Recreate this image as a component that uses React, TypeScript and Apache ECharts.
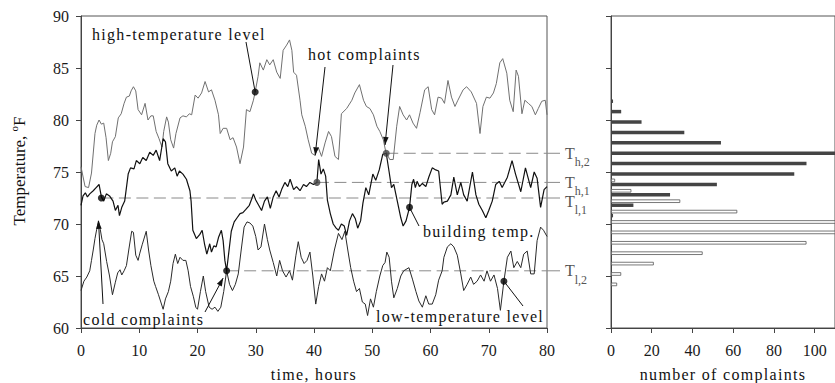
import React, { useEffect, useRef } from 'react';
import * as echarts from 'echarts';

// ---- time series: [time (hours), temperature (°F)] ----
const highTempLevel: number[][] = [
  [0, 75.5], [0.7, 73.6], [1.3, 73.5], [1.8, 74.9], [2.4, 78.7], [2.7, 79.5], [3.1, 80.0], [3.5, 79.6], [3.9, 79.7],
  [4.3, 78.3], [4.7, 76.1], [5.1, 76.8], [5.4, 77.9], [5.9, 78.4], [6.4, 80.2], [6.9, 80.6], [7.4, 81.6], [7.8, 82.2],
  [8.3, 82.3], [8.6, 82.8], [9.0, 83.2], [9.4, 82.8], [9.8, 81.0], [10.4, 80.5], [11.0, 81.6], [11.5, 80.0], [12.0, 80.4],
  [12.4, 80.4], [12.9, 78.9], [13.4, 78.2], [13.9, 77.4], [14.2, 78.9], [14.7, 80.3], [15.0, 79.8], [15.4, 78.1],
  [15.9, 77.3], [16.3, 78.7], [17.0, 80.2], [17.5, 80.4], [18.1, 80.3], [18.6, 80.6], [19.0, 80.5], [19.6, 82.4],
  [20.1, 82.1], [20.7, 82.6], [21.3, 83.7], [21.9, 82.7], [22.4, 82.9], [23.0, 81.9], [23.6, 80.5], [23.9, 78.7],
  [24.4, 79.2], [25.0, 79.2], [25.6, 78.1], [26.1, 78.3], [26.7, 77.4], [27.3, 75.8], [27.9, 77.4], [28.4, 81.0],
  [29.0, 80.8], [29.6, 81.9], [29.9, 82.7], [30.4, 84.2], [30.7, 85.5], [31.3, 84.8], [31.9, 85.8], [32.4, 85.3],
  [33.0, 85.8], [33.6, 84.6], [34.2, 84.0], [34.7, 86.7], [35.3, 87.2], [35.8, 87.7], [36.2, 86.7], [36.5, 84.6],
  [37.0, 84.3], [37.6, 81.9], [37.9, 80.5], [38.5, 79.4], [39.0, 78.1], [39.6, 76.8], [40.2, 76.6], [40.7, 77.4],
  [41.3, 76.5], [41.9, 77.8], [42.5, 78.9], [43.0, 78.4], [43.6, 76.5], [44.2, 76.2], [44.7, 80.6], [45.6, 81.1],
  [46.5, 81.9], [47.0, 82.6], [47.8, 83.4], [48.5, 81.9], [49.0, 81.3], [49.6, 81.1], [50.2, 80.5], [50.8, 79.4],
  [51.3, 78.9], [51.9, 78.1], [52.3, 77.0], [53.0, 76.2], [53.6, 76.2], [54.2, 79.4], [54.7, 81.3], [55.3, 80.5],
  [55.9, 80.0], [56.4, 80.5], [57.0, 79.7], [57.6, 79.2], [58.2, 80.7], [59.0, 82.9], [59.6, 83.2], [60.2, 81.0],
  [60.7, 80.5], [61.3, 82.2], [61.9, 82.1], [62.4, 81.6], [63.0, 83.8], [63.6, 82.2], [64.2, 81.3], [64.7, 81.9],
  [65.6, 82.9], [66.2, 83.2], [67.0, 82.7], [67.9, 81.6], [68.5, 78.7], [69.0, 81.3], [69.6, 82.2], [70.2, 82.1],
  [70.8, 82.6], [71.3, 83.5], [71.9, 85.5], [72.4, 85.9], [73.1, 84.5], [73.6, 81.9], [74.2, 80.8], [74.7, 84.8],
  [75.1, 84.2], [75.7, 80.6], [76.2, 81.9], [76.8, 81.6], [77.4, 81.3], [78.0, 80.5], [78.5, 81.1], [79.1, 81.8],
  [79.7, 81.9], [80.0, 80.5],
];

const buildingTemp: number[][] = [
  [0, 71.8], [0.35, 72.7], [0.75, 73.0], [1.1, 72.6], [1.5, 72.9], [2.1, 73.2], [2.6, 73.5], [3.1, 73.8], [3.5, 72.6],
  [3.9, 72.2], [4.35, 72.9], [4.9, 72.7], [5.5, 72.2], [5.9, 71.3], [6.35, 71.8], [6.6, 70.8], [7.0, 71.6], [7.5, 72.2],
  [8.1, 74.8], [8.5, 75.4], [9.1, 75.3], [9.5, 76.1], [10.1, 75.8], [10.6, 76.4], [11.2, 76.1], [11.8, 76.9],
  [12.4, 76.6], [12.9, 77.1], [13.5, 76.1], [14.1, 78.2], [14.5, 77.9], [14.9, 75.8], [15.5, 75.1], [16.1, 75.4],
  [16.5, 74.6], [16.9, 75.1], [17.5, 74.8], [18.1, 74.3], [18.7, 73.2], [18.9, 72.2], [19.2, 69.4], [19.8, 68.6],
  [20.4, 69.0], [20.8, 69.4], [21.2, 68.1], [21.6, 67.1], [22.1, 68.1], [22.4, 67.3], [22.8, 67.9], [23.2, 67.8],
  [23.6, 68.7], [24.1, 69.4], [24.4, 68.4], [24.7, 66.5], [25.0, 65.5], [25.4, 67.4], [25.8, 69.3], [26.3, 70.2],
  [26.8, 70.6], [27.3, 71.0], [27.8, 71.1], [28.3, 71.4], [28.9, 71.8], [29.3, 72.4], [29.6, 72.9], [30.0, 72.3],
  [30.5, 71.8], [31.0, 71.3], [31.5, 72.2], [32.0, 72.6], [32.5, 71.5], [33.0, 72.6], [33.5, 73.2], [34.0, 72.6],
  [34.5, 73.4], [35.0, 74.0], [35.5, 73.6], [35.9, 74.3], [36.5, 73.3], [37.0, 73.6], [37.6, 73.2], [38.2, 73.8],
  [38.7, 73.6], [39.3, 74.0], [39.9, 73.8], [40.5, 74.0], [40.8, 76.2], [41.2, 74.8], [41.6, 75.3], [42.0, 74.6],
  [42.3, 72.3], [42.8, 71.0], [43.3, 70.0], [43.8, 69.6], [44.2, 69.4], [44.7, 70.0], [45.2, 69.8], [45.6, 68.9],
  [46.1, 70.3], [46.6, 71.0], [47.1, 70.5], [47.5, 69.6], [48.0, 70.3], [48.4, 72.0], [48.9, 73.5], [49.4, 72.8],
  [50.1, 74.8], [50.6, 74.2], [51.2, 75.2], [51.8, 76.7], [52.4, 76.8], [52.9, 75.0], [53.3, 73.5], [53.7, 73.8],
  [54.3, 72.2], [54.9, 70.6], [55.3, 69.8], [55.8, 70.3], [56.4, 71.6], [56.8, 73.8], [57.1, 74.3], [57.4, 73.5],
  [57.7, 74.1], [58.1, 73.6], [58.6, 73.9], [59.2, 73.6], [59.7, 74.5], [60.3, 75.4], [60.9, 75.2], [61.4, 75.1],
  [62.0, 71.9], [62.3, 72.1], [62.9, 72.2], [63.5, 72.8], [64.0, 74.5], [64.6, 72.8], [65.2, 74.0], [65.7, 72.8],
  [66.3, 72.2], [67.2, 75.0], [67.8, 72.8], [68.3, 71.9], [68.9, 71.3], [69.5, 70.6], [70.0, 71.3], [70.6, 72.2],
  [71.2, 73.8], [71.8, 74.1], [72.3, 73.5], [73.2, 74.5], [74.0, 76.1], [74.6, 74.8], [75.5, 73.1], [76.3, 75.4],
  [77.2, 73.5], [77.8, 75.0], [78.3, 74.4], [78.9, 71.6], [79.5, 73.3], [80.0, 73.6],
];

const lowTempLevel: number[][] = [
  [0, 63.6], [0.5, 64.5], [1.0, 64.9], [1.5, 65.5], [1.8, 66.5], [2.1, 67.5], [2.4, 68.6], [2.7, 69.5], [3.0, 70.3],
  [3.3, 69.5], [3.6, 68.5], [3.9, 68.1], [4.4, 66.4], [4.9, 65.0], [5.4, 63.2], [5.9, 64.4], [6.3, 65.3], [6.7, 65.6],
  [7.0, 65.1], [7.4, 65.5], [7.8, 66.0], [8.2, 67.5], [8.7, 69.3], [9.0, 69.2], [9.4, 67.0], [9.8, 66.5], [10.1, 67.2],
  [10.5, 68.0], [11.2, 69.3], [11.6, 67.5], [12.0, 66.0], [12.5, 64.5], [12.8, 64.0], [13.3, 63.2], [13.7, 62.5],
  [14.1, 61.8], [14.5, 62.8], [15.0, 63.5], [15.4, 64.5], [15.8, 66.2], [16.2, 67.1], [16.6, 66.2], [17.0, 66.8],
  [17.5, 66.5], [18.0, 66.5], [18.4, 65.5], [18.8, 64.0], [19.3, 63.0], [19.7, 62.0], [20.0, 61.8], [20.5, 63.5],
  [21.0, 65.0], [21.4, 63.5], [22.0, 62.0], [22.5, 61.8], [23.0, 62.0], [23.5, 61.6], [24.0, 62.0], [24.5, 63.5],
  [25.0, 65.5], [25.5, 64.2], [26.0, 63.6], [26.5, 64.2], [27.0, 65.2], [27.5, 67.5], [28.0, 69.7], [28.5, 70.2],
  [29.0, 70.1], [29.5, 69.8], [30.0, 68.8], [30.4, 67.5], [30.9, 67.8], [31.5, 70.0], [32.0, 68.5], [32.4, 67.5],
  [33.0, 66.3], [33.6, 65.0], [34.1, 66.5], [34.6, 65.5], [35.2, 64.9], [35.8, 65.5], [36.3, 64.6], [36.9, 67.0],
  [37.3, 68.3], [37.8, 66.8], [38.3, 66.2], [38.8, 66.5], [39.3, 67.3], [39.8, 65.0], [40.3, 62.3], [40.8, 64.0],
  [41.3, 65.2], [41.8, 64.5], [42.3, 65.8], [42.8, 65.5], [43.5, 67.5], [44.2, 69.1], [44.8, 68.5], [45.3, 69.3],
  [45.8, 67.5], [46.3, 65.8], [46.8, 64.5], [47.3, 63.5], [47.8, 63.8], [48.3, 62.5], [48.8, 62.3], [49.2, 61.2],
  [49.7, 62.8], [50.2, 62.0], [50.7, 63.5], [51.3, 65.0], [51.8, 66.0], [52.2, 66.3], [52.5, 67.3], [52.9, 66.8],
  [53.3, 64.5], [53.7, 62.9], [54.3, 63.8], [54.9, 65.0], [55.4, 65.5], [56.3, 65.8], [56.9, 64.7], [57.5, 63.5],
  [58.0, 62.6], [58.6, 62.0], [59.2, 63.1], [59.7, 62.3], [60.3, 62.3], [60.9, 63.2], [61.4, 64.6], [62.0, 65.5],
  [62.3, 66.8], [62.9, 67.8], [63.5, 68.1], [64.0, 67.8], [64.6, 67.0], [65.2, 65.2], [65.7, 63.6], [66.3, 64.2],
  [66.9, 64.9], [67.4, 64.2], [68.0, 64.5], [68.6, 65.1], [69.2, 64.5], [69.7, 65.5], [70.3, 64.5], [70.9, 65.1],
  [71.5, 63.8], [72.0, 61.7], [72.6, 64.5], [73.2, 66.8], [73.8, 67.4], [74.3, 65.8], [74.9, 66.4], [75.5, 65.8],
  [76.0, 67.1], [76.6, 67.4], [77.2, 65.2], [77.8, 65.2], [78.3, 68.4], [78.9, 69.7], [79.4, 69.4], [80.0, 68.8],
];

// threshold (dashed) levels
const thresholdNames = ['h,2', 'h,1', 'l,1', 'l,2'];
const thresholdValues = [76.8, 74.0, 72.5, 65.5];
const thresholdStarts = [52.4, 40.5, 3.5, 25.0];

// marked points [time, temperature]
const blackMarkers: number[][] = [[29.9, 82.7], [3.5, 72.5], [25.0, 65.5], [56.4, 71.6], [72.6, 64.5]];
const grayMarkers: number[][] = [[40.5, 74.0], [52.4, 76.8]];

// histogram of complaints by temperature bin (°F)
const binTemps = [64, 65, 66, 67, 68, 69, 70, 71, 72, 73, 74, 75, 76, 77, 78, 79, 80, 81, 82];
const hotComplaints = [0, 0, 0, 0, 0, 0, 0, 1, 11, 29, 52, 90, 96, 112, 54, 36, 15, 5, 1];
const coldComplaints = [3, 5, 21, 45, 96, 112, 112, 62, 34, 10, 2, 0, 0, 0, 0, 0, 0, 0, 0];
const tempCategories = [
  '60', '61', '62', '63', '64', '65', '66', '67', '68', '69', '70', '71', '72', '73', '74', '75',
  '76', '77', '78', '79', '80', '81', '82', '83', '84', '85', '86', '87', '88', '89', '90',
];

const FONT = 'Liberation Serif';
const SPACED_FONT = 'Liberation Serif, Times';

function histData(counts: number[]) {
  return tempCategories.map((c) => {
    const i = binTemps.indexOf(Number(c));
    return i >= 0 && counts[i] > 0 ? counts[i] : '-';
  });
}

function arrowHead(x1: number, y1: number, x2: number, y2: number) {
  const dx = x2 - x1;
  const dy = y2 - y1;
  const L = Math.hypot(dx, dy) || 1;
  const ux = dx / L;
  const uy = dy / L;
  const len = 8;
  const w = 2.8;
  const bx = x2 - ux * len;
  const by = y2 - uy * len;
  return {
    type: 'polygon',
    z: 100,
    silent: true,
    shape: { points: [[x2, y2], [bx - uy * w, by + ux * w], [bx + uy * w, by - ux * w]] },
    style: { fill: '#111' },
  };
}

export default function App() {
  const ref = useRef<HTMLDivElement>(null);

  useEffect(() => {
    if (!ref.current) return;
    const chart = echarts.init(ref.current, null, { renderer: 'svg' });

    const axisColor = '#444';
    const tickLabel = { fontFamily: FONT, fontSize: 16, color: '#1a1a1a' };

    const thresholdSeries = thresholdValues.map((v, i) => ({
      type: 'line',
      xAxisIndex: 0,
      yAxisIndex: 0,
      data: [[thresholdStarts[i], v], [80, v]],
      showSymbol: false,
      silent: true,
      lineStyle: { color: '#8a8a8a', width: 1, type: [12, 5.5] },
      z: 1,
    }));

    const option: any = {
      animation: false,
      backgroundColor: '#fff',
      grid: [
        { left: 81, top: 16, width: 466, height: 312, show: true, borderColor: '#555', borderWidth: 1 },
        { left: 611, top: 16, width: 226, height: 312, show: true, borderColor: '#555', borderWidth: 1 },
      ],
      xAxis: [
        {
          type: 'value', gridIndex: 0, min: 0, max: 80, interval: 10,
          axisLine: { show: true, lineStyle: { color: axisColor } },
          axisTick: { show: true, length: 5, lineStyle: { color: axisColor } },
          axisLabel: { ...tickLabel, margin: 14 },
          splitLine: { show: false },
        },
        {
          type: 'value', gridIndex: 1, min: 0, max: 110, interval: 20,
          axisLine: { show: true, lineStyle: { color: axisColor } },
          axisTick: { show: true, length: 5, lineStyle: { color: axisColor } },
          axisLabel: { ...tickLabel, margin: 14, showMaxLabel: false },
          splitLine: { show: false },
        },
      ],
      yAxis: [
        {
          type: 'value', gridIndex: 0, min: 60, max: 90, interval: 5,
          axisLine: { show: true, lineStyle: { color: axisColor } },
          axisTick: { show: true, length: 5, lineStyle: { color: axisColor } },
          axisLabel: { ...tickLabel, margin: 12 },
          splitLine: { show: false },
        },
        {
          type: 'category', gridIndex: 1, data: tempCategories, boundaryGap: false,
          axisLine: { show: true, lineStyle: { color: axisColor } },
          axisTick: { show: true, length: 5, interval: 4, lineStyle: { color: axisColor } },
          axisLabel: { show: false },
          splitLine: { show: false },
        },
      ],
      series: [
        ...thresholdSeries,
        {
          name: 'high-temperature level', type: 'line', xAxisIndex: 0, yAxisIndex: 0,
          data: highTempLevel, showSymbol: false, silent: true,
          lineStyle: { color: '#707070', width: 1 }, z: 2,
        },
        {
          name: 'low-temperature level', type: 'line', xAxisIndex: 0, yAxisIndex: 0,
          data: lowTempLevel, showSymbol: false, silent: true,
          lineStyle: { color: '#2a2a2a', width: 1 }, z: 3,
        },
        {
          name: 'building temp.', type: 'line', xAxisIndex: 0, yAxisIndex: 0,
          data: buildingTemp, showSymbol: false, silent: true,
          lineStyle: { color: '#111', width: 1.2 }, z: 4,
        },
        {
          type: 'scatter', xAxisIndex: 0, yAxisIndex: 0, data: blackMarkers,
          symbolSize: 7, itemStyle: { color: '#000' }, silent: true, z: 5,
        },
        {
          type: 'scatter', xAxisIndex: 0, yAxisIndex: 0, data: grayMarkers,
          symbolSize: 7, itemStyle: { color: '#444' }, silent: true, z: 5,
        },
        {
          name: 'cold complaints', type: 'bar', xAxisIndex: 1, yAxisIndex: 1,
          data: histData(coldComplaints), barWidth: 3.5, barGap: '15%', clip: true, silent: true,
          itemStyle: { color: '#fff', borderColor: '#555', borderWidth: 0.8 },
        },
        {
          name: 'hot complaints', type: 'bar', xAxisIndex: 1, yAxisIndex: 1,
          data: histData(hotComplaints), barWidth: 3.5, barGap: '15%', clip: true, silent: true,
          itemStyle: { color: '#444' },
        },
      ],
    };

    chart.setOption(option);

    const px = (t: number, v: number) => chart.convertToPixel({ gridIndex: 0 }, [t, v]) as number[];

    const elements: any[] = [];

    // threshold extensions and labels
    thresholdValues.forEach((v, i) => {
      const [x, y] = px(80, v);
      const dy = thresholdNames[i] === 'l,1' ? 3 : 0;
      elements.push({
        type: 'line', z: 100, silent: true,
        shape: { x1: x, y1: y, x2: x + 13, y2: y },
        style: { stroke: '#8a8a8a', lineWidth: 1 },
      });
      elements.push({
        type: 'text', z: 100, silent: true, x: x + 18, y: y + dy,
        style: {
          text: `{t|T}{s|${thresholdNames[i]}}`,
          align: 'left', verticalAlign: 'middle',
          rich: {
            t: { fontFamily: FONT, fontSize: 16, lineHeight: 30, fill: '#555' },
            s: { fontFamily: FONT, fontSize: 12, lineHeight: 12, verticalAlign: 'bottom', fill: '#555' },
          },
        },
      });
    });

    // annotation texts
    const annos = [
      { text: 'high-temperature level', x: 92, y: 34 },
      { text: 'hot complaints', x: 308, y: 54 },
      { text: 'building temp.', x: 423, y: 231 },
      { text: 'low-temperature level', x: 376, y: 316 },
      { text: 'cold complaints', x: 83, y: 319 },
    ];
    annos.forEach((a) => {
      elements.push({
        type: 'text', z: 100, silent: true, x: a.x, y: a.y,
        style: { text: a.text, fontFamily: SPACED_FONT, fontSize: 16, fill: '#111', align: 'left', verticalAlign: 'middle' },
      });
    });

    // axis titles
    elements.push({
      type: 'text', z: 100, silent: true, x: 314, y: 374,
      style: { text: 'time, hours', fontFamily: SPACED_FONT, fontSize: 16, fill: '#111', align: 'center', verticalAlign: 'middle' },
    });
    elements.push({
      type: 'text', z: 100, silent: true, x: 723, y: 374,
      style: { text: 'number of complaints', fontFamily: SPACED_FONT, fontSize: 16, fill: '#111', align: 'center', verticalAlign: 'middle' },
    });
    elements.push({
      type: 'text', z: 100, silent: true, x: 19, y: 171, rotation: Math.PI / 2,
      style: {
        text: '{a|Temperature, }{b|o}{a|F}',
        align: 'center', verticalAlign: 'middle',
        rich: {
          a: { fontFamily: FONT, fontSize: 17, lineHeight: 22, fill: '#111' },
          b: { fontFamily: FONT, fontSize: 11, lineHeight: 11, verticalAlign: 'top', fill: '#111' },
        },
      },
    });

    // pointers: start in pixels (at the text), end on the data
    const pointers = [
      { from: [246, 42], to: px(29.9, 82.7), head: false },
      { from: [325, 67], to: px(40.2, 76.6), head: true },
      { from: [393, 65], to: px(52.2, 77.6), head: true },
      { from: [103, 304], to: px(3.0, 70.3), head: true },
      { from: [205, 312], to: px(24.4, 64.8), head: true },
      { from: px(56.4, 71.6), to: [419, 226], head: false },
      { from: px(72.6, 64.5), to: [523, 306], head: false },
    ];
    pointers.forEach((p) => {
      elements.push({
        type: 'line', z: 100, silent: true,
        shape: { x1: p.from[0], y1: p.from[1], x2: p.to[0], y2: p.to[1] },
        style: { stroke: '#111', lineWidth: 1 },
      });
      if (p.head) elements.push(arrowHead(p.from[0], p.from[1], p.to[0], p.to[1]));
    });

    chart.setOption({ graphic: { elements } });

    return () => {
      chart.dispose();
    };
  }, []);

  return (
    <>
      <style>{`#chart-root text[style*="Times"]{letter-spacing:1.3px;}`}</style>
      <div
        id="chart-root"
        ref={ref}
        style={{ position: 'fixed', left: 0, top: 0, width: 835, height: 383, background: '#fff' }}
      />
    </>
  );
}
